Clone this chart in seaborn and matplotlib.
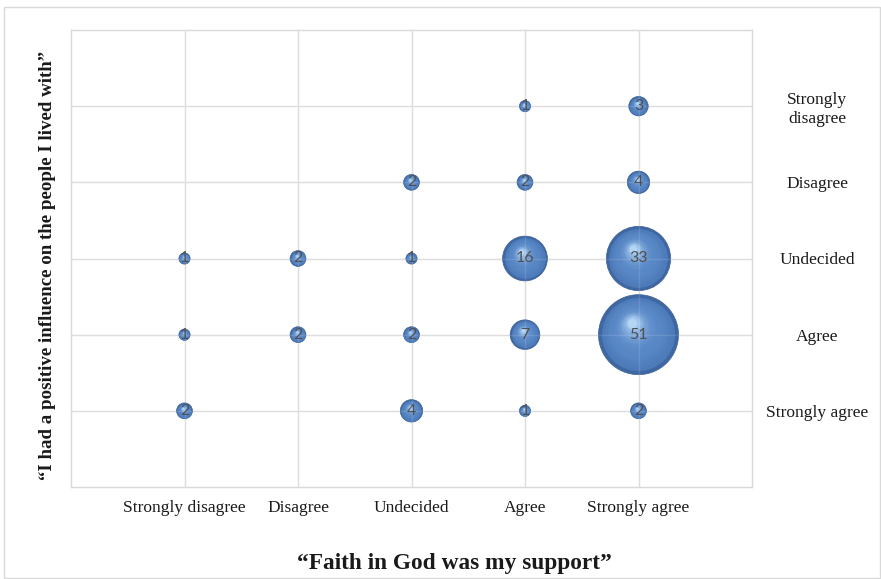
import numpy as np
import pandas as pd
import matplotlib
matplotlib.use("Agg")
import matplotlib.pyplot as plt
import matplotlib.transforms as mtransforms
from matplotlib.colors import to_rgb
import seaborn as sns

# ---- data ----
x_labels = ["Strongly disagree", "Disagree", "Undecided", "Agree", "Strongly agree"]
y_labels = ["Strongly agree", "Agree", "Undecided", "Disagree", "Strongly\ndisagree"]  # y = 1..5
x_pos = [4, 5, 3, 4, 5, 1, 2, 3, 4, 5, 1, 2, 3, 4, 5, 1, 3, 4, 5]
y_pos = [5, 5, 4, 4, 4, 3, 3, 3, 3, 3, 2, 2, 2, 2, 2, 1, 1, 1, 1]
counts = [1, 3, 2, 2, 4, 1, 2, 1, 16, 33, 1, 2, 2, 7, 51, 2, 4, 1, 2]
x_title = "\u201cFaith in God was my support\u201d"
y_title = "\u201cI had a positive influence on the people I lived with\u201d"

df = pd.DataFrame({"x": x_pos, "y": y_pos, "value": counts})

sns.set_theme(style="white")
plt.rcParams["font.family"] = ["Liberation Serif", "DejaVu Serif"]

W, H, DPI = 881, 579, 100
fig = plt.figure(figsize=(W / DPI, H / DPI), dpi=DPI)
ax = fig.add_axes([71 / W, 1 - 487 / H, (752 - 71) / W, (487 - 30) / H])

grid_c = "#d9d9d9"
ax.set_xlim(0, 6)
ax.set_ylim(0, 6)
ax.set_xticks(range(1, 6))
ax.set_yticks(range(1, 6))
ax.grid(True, color=grid_c, linewidth=1.0)
ax.set_axisbelow(True)
for sp in ax.spines.values():
    sp.set_color(grid_c)
    sp.set_linewidth(1.0)

scale = 65.0  # points^2 per unit
smin, smax = min(counts), max(counts)
sns.scatterplot(data=df, x="x", y="y", size="value",
                sizes=(scale * smin, scale * smax), size_norm=(smin, smax),
                color="#3f68a3", edgecolor="#3a5f96", linewidth=0.5,
                legend=False, ax=ax, zorder=3)

# 3D sphere shading: layered highlights
c0 = np.array(to_rgb("#4a77b6"))
cm = np.array(to_rgb("#5887c6"))
c1 = np.array(to_rgb("#b3d6f5"))
n_layers = 16
for xi, yi, v in zip(df["x"], df["y"], df["value"]):
    s = scale * v
    r = np.sqrt(s) / 2.0
    for k in range(1, n_layers):
        t = k / (n_layers - 1)
        f = 0.97 - 0.85 * t
        if t < 0.35:
            u = t / 0.35
            col = c0 * (1 - u) + cm * u
        else:
            u = ((t - 0.35) / 0.65) ** 2.4
            col = cm * (1 - u) + c1 * u
        tr = mtransforms.offset_copy(ax.transData, fig=fig,
                                     x=-0.16 * r * t, y=0.30 * r * t, units="points")
        ax.scatter([xi], [yi], s=s * f * f, color=col, linewidths=0,
                   transform=tr, zorder=3 + k * 0.01)

# faint gridlines showing through the bubbles
for xt in ax.get_xticks():
    ax.axvline(xt, color="white", alpha=0.12, linewidth=1.0, zorder=4)
for yt in ax.get_yticks():
    ax.axhline(yt, color="white", alpha=0.12, linewidth=1.0, zorder=4)

for xi, yi, v in zip(df["x"], df["y"], df["value"]):
    ax.text(xi, yi, str(v), ha="center", va="center", fontsize=11.5,
            family=["Lato", "DejaVu Sans"], color="#505050", zorder=5)

ax.set_xticklabels(x_labels, fontsize=12.5, color="#1a1a1a")
ax.tick_params(axis="x", length=0, pad=9.5)
ax.yaxis.tick_right()
ax.set_yticklabels(y_labels, fontsize=12.5, color="#1a1a1a", ha="center",
                   multialignment="center", linespacing=1.2)
ax.tick_params(axis="y", length=0, pad=47)
ax.set_xlabel("")
ax.set_ylabel("")

fig.text(454 / W, 1 - 563 / H, x_title, ha="center", va="center",
         fontsize=16.8, fontweight="bold", color="#1a1a1a")
fig.text(48 / W, 1 - 265 / H, y_title, ha="center", va="center",
         rotation=90, fontsize=13.6, fontweight="bold", color="#1a1a1a")

border = plt.Rectangle((4 / W, 1 / H), (W - 5) / W, (H - 8) / H,
                       transform=fig.transFigure, fill=False,
                       edgecolor=grid_c, linewidth=1.0)
fig.patches.append(border)

fig.savefig("out.png", dpi=DPI)
